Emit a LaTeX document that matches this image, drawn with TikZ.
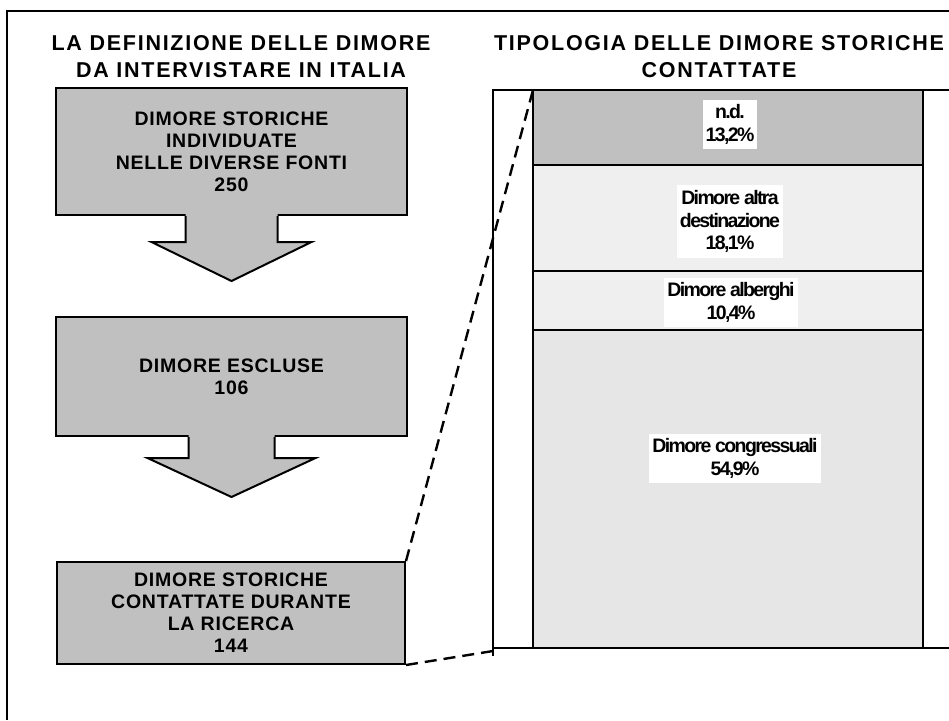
\documentclass[tikz,border=0pt]{standalone}
\usepackage{fontspec}
\setmainfont{Liberation Sans}
\newfontfamily\capsfont[LetterSpace=8]{Liberation Sans}
\newfontfamily\boxfont[LetterSpace=4]{Liberation Sans}
\newfontfamily\barfont[LetterSpace=-8.4]{Liberation Sans}
\usetikzlibrary{positioning}
\definecolor{boxGray}{HTML}{C0C0C0}
\definecolor{lightGray}{HTML}{EFEFEF}
\definecolor{midGray}{HTML}{E6E6E6}
\tikzstyle{titleNode} = [text centered, align=center, inner sep=0pt, font=\capsfont\bfseries\fontsize{21.5}{27}\selectfont]
\tikzstyle{boxNode} = [rectangle, minimum width=351pt, text centered, align=center, draw=black, line width=2pt, fill=boxGray, font=\boxfont\bfseries\fontsize{19.5}{22}\selectfont]
\tikzstyle{barNode} = [rectangle, minimum width=390pt, draw=black, line width=2.2pt, inner sep=0pt, outer sep=0pt]
\tikzstyle{labNode} = [text centered, align=center, fill=white, inner xsep=3pt, inner ysep=5pt, font=\barfont\bfseries\fontsize{19.5}{22.5}\selectfont]
\tikzstyle{lineK} = [line width=2pt, draw=black]
\tikzstyle{arrowD} = [line width=2.4pt, dash pattern=on 12pt off 7pt, draw=black]

\begin{document}
\begin{tikzpicture}[x=1pt, y=-1pt]
        \useasboundingbox (0,0) rectangle (949,720);
        \draw [lineK] (7,720) -- (7,11) -- (949,11);

        \node (title1) [titleNode] at (241,57) {LA DEFINIZIONE DELLE DIMORE\\DA INTERVISTARE IN ITALIA};
        \node (title2) [titleNode] at (719,57) {TIPOLOGIA DELLE DIMORE STORICHE\\CONTATTATE};

        % flow on the left
        \node (dimInd) [boxNode, minimum height=127pt] at (231.5,151.5) {DIMORE STORICHE\\INDIVIDUATE\\NELLE DIVERSE FONTI\\250};
        \node (dimEsc) [boxNode, minimum height=119pt] at (231.5,376.5) {DIMORE ESCLUSE\\106};
        \node (dimCon) [boxNode, minimum width=348pt, minimum height=102pt] at (231,613) {DIMORE STORICHE\\CONTATTATE DURANTE\\LA RICERCA\\144};

        \fill [boxGray] ([xshift=-46pt,yshift=2pt]dimInd.south) -- ++(0,28) -- ++(-34,0) -- ++(80,39) -- ++(80,-39) -- ++(-34,0) -- ++(0,-28) -- cycle;
        \draw [lineK] ([xshift=-46pt]dimInd.south) -- ++(0,26) -- ++(-34,0) -- ++(80,39) -- ++(80,-39) -- ++(-34,0) -- ++(0,-26);
        \fill [boxGray] ([xshift=-43pt,yshift=2pt]dimEsc.south) -- ++(0,23) -- ++(-41,0) -- ++(84,39) -- ++(84,-39) -- ++(-41,0) -- ++(0,-23) -- cycle;
        \draw [lineK] ([xshift=-43pt]dimEsc.south) -- ++(0,21) -- ++(-41,0) -- ++(84,39) -- ++(84,-39) -- ++(-41,0) -- ++(0,-21);

        % stacked bar on the right
        \draw [lineK] (493,656) -- (493,90) -- (949,90);
        \node (nd) [barNode, fill=boxGray, minimum height=75pt, anchor=north west] at (533,90) {};
        \node (altra) [barNode, fill=lightGray, minimum height=106pt, below=0pt of nd] {};
        \node (alb) [barNode, fill=lightGray, minimum height=59pt, below=0pt of altra] {};
        \node (congr) [barNode, fill=midGray, minimum height=318pt, below=0pt of alb] {};
        \draw [lineK] (493,648) -- (949,648);

        \node (ndLab) [labNode] at (730,124.5) {n.d.\\13,2\%};
        \node (altraLab) [labNode] at (730,221.5) {Dimore altra\\destinazione\\18,1\%};
        \node (albLab) [labNode] at (731,302.5) {Dimore alberghi\\10,4\%};
        \node (congrLab) [labNode] at (735,458.5) {Dimore congressuali\\54,9\%};

        \coordinate (frameL) at (493,651);
        \draw [arrowD] (dimCon.north east) -- (nd.north west);
        \draw [arrowD] (dimCon.south east) -- (frameL);
    \end{tikzpicture}
\end{document}
